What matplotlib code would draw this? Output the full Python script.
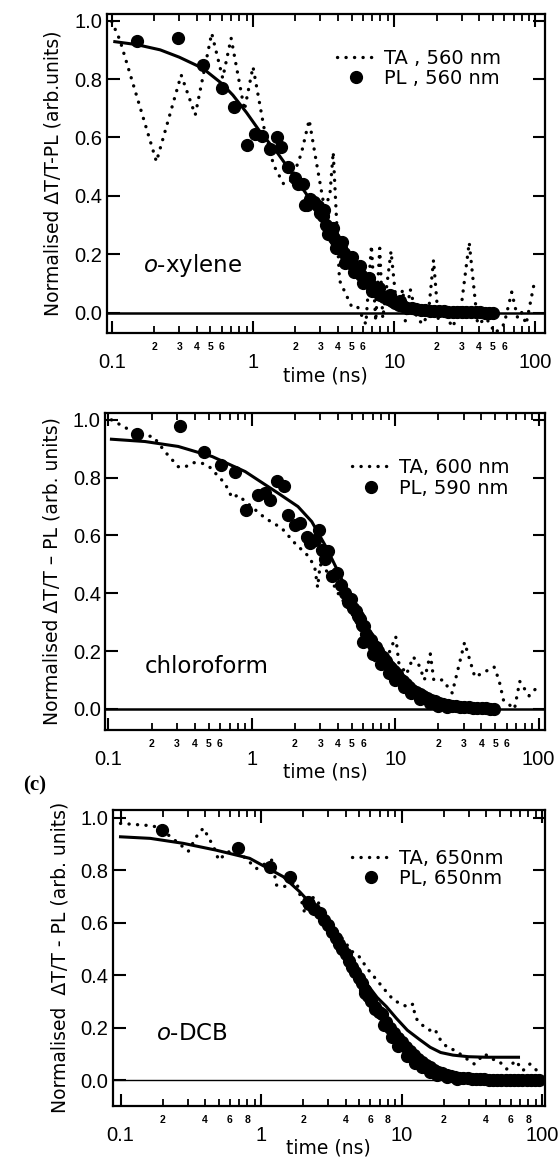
import matplotlib
matplotlib.use('Agg')
import matplotlib.pyplot as plt
from matplotlib.ticker import FixedLocator, FixedFormatter

plt.rcParams['mathtext.fontset'] = 'custom'
plt.rcParams['mathtext.it'] = 'DejaVu Sans:italic'
plt.rcParams['mathtext.rm'] = 'DejaVu Sans'

# ---- panel 1 : o-xylene ----
ta1_t = [0.10, 0.114, 0.207, 0.31, 0.39, 0.51, 0.61, 0.70, 0.87, 1.0, 1.2, 1.4, 1.65, 1.88, 2.2, 2.5,
         2.8, 3.2, 3.5, 3.7, 4.1, 5.0, 5.5, 6.3, 6.9, 7.4, 7.9, 8.3, 9.5, 10.5, 11.5, 12.0, 13.0,
         14.5, 16.0, 17.5, 19.0, 20.5, 23.0, 26.0, 30.0, 34.0, 39.0, 45.0, 52.0, 60.0, 68.0, 75.0,
         80.0, 86.0, 99.0]
ta1_v = [0.997, 0.934, 0.517, 0.814, 0.677, 0.957, 0.803, 0.94, 0.694, 0.842, 0.63, 0.505, 0.44, 0.454,
         0.545, 0.66, 0.52, 0.36, 0.40, 0.55, 0.11, 0.02, 0.02, -0.04, 0.23, -0.03, 0.22, -0.02, 0.21,
         0.0, 0.08, -0.03, 0.08, -0.02, -0.04, 0.0, 0.18, -0.02, -0.01, -0.05, 0.03, 0.24, -0.04,
         -0.02, -0.07, -0.04, 0.07, -0.02, 0.0, -0.04, 0.11]
pl1_t = [0.15, 0.295, 0.44, 0.60, 0.73, 0.90, 1.03, 1.15, 1.32, 1.47, 1.59, 1.78, 1.97, 2.1, 2.25, 2.33,
         2.4, 2.55, 2.7, 2.9, 3.0, 3.15, 3.3, 3.45, 3.6, 3.75, 3.9, 4.05, 4.2, 4.4, 4.6, 4.8, 5.0,
         5.25, 5.5, 5.8, 6.1, 6.4, 6.8, 7.2, 7.6, 8.0, 8.5, 9.0, 9.6, 10.2, 10.9, 11.6, 12.4, 13.3,
         14.3, 15.4, 16.6, 17.9, 19.3, 20.8, 22.4, 24.1, 26.0, 28.0, 30.2, 32.5, 35.0, 37.7, 40.6,
         43.7, 47.0, 50.0, 3.4, 3.9, 4.5, 5.2, 6.0, 7.0, 3.2, 3.7, 4.3, 5.0, 5.7, 6.6, 7.8, 9.3, 11.0]
pl1_v = [0.93, 0.94, 0.848, 0.77, 0.705, 0.575, 0.612, 0.606, 0.56, 0.60, 0.566, 0.497, 0.46, 0.44, 0.44,
         0.37, 0.37, 0.39, 0.38, 0.364, 0.34, 0.33, 0.30, 0.28, 0.27, 0.255, 0.245, 0.235, 0.22, 0.205,
         0.19, 0.18, 0.165, 0.155, 0.145, 0.13, 0.12, 0.105, 0.095, 0.085, 0.07, 0.06, 0.052, 0.045,
         0.038, 0.032, 0.026, 0.021, 0.017, 0.014, 0.011, 0.009, 0.008, 0.006, 0.005, 0.005, 0.004,
         0.003, 0.003, 0.002, 0.002, 0.002, 0.001, 0.001, 0.001, 0.0, 0.0, 0.0, 0.27, 0.22, 0.17,
         0.14, 0.10, 0.075, 0.35, 0.29, 0.24, 0.19, 0.16, 0.12, 0.085, 0.06, 0.04]
fit1_t = [0.105, 0.15, 0.22, 0.3, 0.44, 0.6, 0.72, 0.9, 1.12, 1.5, 2.0, 2.6, 3.33, 4.0, 4.7, 5.6, 6.7,
          8.0, 9.5, 11.5, 14.0, 18.0, 25.0, 35.0, 50.0]
fit1_v = [0.928, 0.918, 0.90, 0.875, 0.837, 0.785, 0.745, 0.685, 0.62, 0.545, 0.46, 0.38, 0.305, 0.245,
          0.19, 0.14, 0.10, 0.068, 0.045, 0.027, 0.015, 0.008, 0.004, 0.001, 0.0]

# ---- panel 2 : chloroform ----
ta2_t = [0.105, 0.162, 0.206, 0.248, 0.307, 0.34, 0.39, 0.45, 0.51, 0.65, 0.73, 0.80, 0.94, 1.24, 1.62,
         2.0, 2.5, 2.75, 2.88, 3.0, 3.3, 4.0, 5.3, 6.7, 7.6, 8.5, 10.1, 10.6, 12.0, 13.4, 14.7, 16.0,
         17.6, 18.6, 21.5, 25.0, 30.5, 36.0, 41.0, 49.0, 53.0, 57.0, 68.0, 74.0, 86.0, 100.0]
ta2_v = [1.0, 0.948, 0.942, 0.89, 0.838, 0.836, 0.852, 0.85, 0.836, 0.78, 0.73, 0.74, 0.71, 0.66, 0.625,
         0.573, 0.527, 0.49, 0.42, 0.50, 0.48, 0.40, 0.31, 0.19, 0.15, 0.16, 0.25, 0.16, 0.12, 0.18,
         0.15, 0.10, 0.19, 0.10, 0.10, 0.055, 0.23, 0.11, 0.125, 0.145, 0.10, 0.03, 0.0, 0.095, 0.045,
         0.08]
pl2_t = [0.158, 0.316, 0.466, 0.61, 0.76, 0.91, 1.1, 1.24, 1.34, 1.49, 1.67, 1.79, 2.0, 2.16, 2.42, 2.55,
         2.75, 2.96, 3.1, 3.24, 3.4, 3.6, 3.95, 4.2, 4.5, 4.7, 4.9, 5.1, 5.3, 5.5, 5.7, 5.9, 6.1, 6.3,
         6.5, 6.8, 7.0, 7.3, 7.6, 7.9, 8.2, 8.6, 9.0, 9.4, 9.8, 10.3, 10.8, 11.3, 11.9, 12.5, 13.2,
         14.0, 14.8, 15.7, 16.7, 17.8, 19.0, 20.3, 21.7, 23.2, 24.8, 26.5, 28.4, 30.4, 32.6, 35.0,
         37.5, 40.2, 43.0, 46.0, 49.0, 6.0, 7.0, 8.0, 9.0, 10.0, 11.5, 13.0, 15.0, 17.5, 20.0, 23.0]
pl2_v = [0.951, 0.979, 0.89, 0.844, 0.818, 0.689, 0.74, 0.746, 0.723, 0.787, 0.772, 0.671, 0.637, 0.643,
         0.596, 0.573, 0.585, 0.62, 0.55, 0.52, 0.546, 0.46, 0.47, 0.43, 0.40, 0.37, 0.38, 0.35, 0.34,
         0.32, 0.31, 0.29, 0.285, 0.26, 0.25, 0.24, 0.22, 0.215, 0.20, 0.185, 0.18, 0.165, 0.15, 0.14,
         0.13, 0.12, 0.105, 0.095, 0.085, 0.075, 0.065, 0.057, 0.05, 0.043, 0.037, 0.031, 0.026,
         0.021, 0.017, 0.014, 0.011, 0.009, 0.007, 0.006, 0.005, 0.004, 0.003, 0.002, 0.002, 0.001,
         0.0, 0.23, 0.19, 0.155, 0.125, 0.10, 0.075, 0.055, 0.035, 0.02, 0.01, 0.005]
fit2_t = [0.105, 0.18, 0.307, 0.53, 0.9, 1.53, 2.1, 2.62, 3.3, 4.0, 4.7, 5.6, 6.7, 8.0, 9.5, 11.3, 13.4,
          16.0, 19.0, 24.0, 30.0, 38.0, 48.0]
fit2_v = [0.933, 0.925, 0.908, 0.873, 0.821, 0.746, 0.70, 0.648, 0.56, 0.475, 0.40, 0.33, 0.263, 0.205,
          0.16, 0.115, 0.08, 0.052, 0.032, 0.018, 0.01, 0.004, 0.0]

# ---- panel 3 : o-DCB ----
ta3_t = [0.10, 0.12, 0.14, 0.16, 0.18, 0.22, 0.265, 0.304, 0.358, 0.39, 0.42, 0.46, 0.50, 0.58, 0.71,
         0.93, 1.19, 1.29, 1.44, 1.79, 2.05, 2.15, 2.48, 2.7, 3.1, 3.85, 4.45, 5.0, 5.8, 6.7, 7.3, 8.8,
         11.1, 12.1, 12.5, 13.6, 15.8, 17.3, 18.3, 21.1, 24.3, 28.0, 33.0, 39.0, 44.0, 49.0, 56.0,
         65.0, 73.0, 82.0, 92.0, 100.0]
ta3_v = [0.978, 0.975, 0.972, 0.97, 0.965, 0.933, 0.898, 0.872, 0.94, 0.96, 0.927, 0.889, 0.838, 0.87,
         0.864, 0.806, 0.838, 0.743, 0.736, 0.755, 0.635, 0.70, 0.692, 0.65, 0.604, 0.534, 0.49, 0.47,
         0.42, 0.38, 0.355, 0.304, 0.278, 0.29, 0.24, 0.215, 0.19, 0.195, 0.163, 0.125, 0.112, 0.087,
         0.061, 0.10, 0.08, 0.074, 0.042, 0.074, 0.036, 0.061, 0.036, 0.048]
pl3_t = [0.197, 0.69, 1.16, 1.62, 2.16, 2.2, 2.4, 2.63, 2.8, 3.0, 3.2, 3.4, 3.6, 3.8, 4.0, 4.2, 4.45, 4.7,
         4.95, 5.2, 5.5, 5.8, 6.1, 6.5, 6.9, 7.3, 7.8, 8.3, 8.8, 9.4, 10.0, 10.7, 11.4, 12.2, 13.0,
         13.9, 14.9, 15.9, 17.0, 18.2, 19.5, 20.9, 22.4, 24.0, 25.7, 27.5, 29.5, 31.6, 33.9, 36.3,
         38.9, 41.7, 44.7, 47.9, 51.3, 55.0, 59.0, 63.0, 67.6, 72.4, 77.6, 83.2, 89.0, 95.0,
         5.5, 6.5, 7.5, 8.5, 9.5, 11.0, 12.5, 14.0, 16.0, 18.0, 21.0, 25.0]
pl3_v = [0.952, 0.885, 0.813, 0.774, 0.68, 0.67, 0.65, 0.635, 0.61, 0.59, 0.565, 0.54, 0.52, 0.50, 0.48,
         0.455, 0.43, 0.41, 0.39, 0.37, 0.345, 0.32, 0.30, 0.28, 0.26, 0.25, 0.22, 0.20, 0.18, 0.16,
         0.145, 0.125, 0.11, 0.095, 0.082, 0.07, 0.058, 0.048, 0.04, 0.032, 0.026, 0.02, 0.016, 0.012,
         0.009, 0.007, 0.006, 0.005, 0.004, 0.003, 0.003, 0.002, 0.002, 0.001, 0.001, 0.001, 0.0, 0.0,
         0.0, 0.0, 0.0, 0.0, 0.0, 0.0, 0.33, 0.27, 0.21, 0.165, 0.13, 0.09, 0.065, 0.048, 0.03, 0.02,
         0.01, 0.005]
fit3_t = [0.10, 0.163, 0.28, 0.48, 0.83, 1.44, 1.89, 2.48, 3.08, 3.8, 4.5, 5.5, 6.7, 7.8, 9.2, 11.0, 13.4,
          16.0, 19.0, 23.3, 30.0, 40.0, 55.0, 68.0]
fit3_v = [0.927, 0.921, 0.902, 0.876, 0.845, 0.775, 0.717, 0.648, 0.59, 0.51, 0.44, 0.375, 0.315, 0.28,
          0.235, 0.19, 0.155, 0.125, 0.105, 0.095, 0.089, 0.087, 0.087, 0.087]

yticks = [0.0, 0.2, 0.4, 0.6, 0.8, 1.0]
ytick_labels = ['0.0', '0.2', '0.4', '0.6', '0.8', '1.0']
xticks = [0.1, 1, 10, 100]
xtick_labels = ['0.1', '1', '10', '100']

fig = plt.figure(figsize=(5.58, 11.62), dpi=100)
fig.patch.set_facecolor('white')


def panel(rect, xlim, ylim, ta_t, ta_v, pl_t, pl_v, fit_t, fit_v, ta_lab, pl_lab, ylab,
          name, name_xy, minor_show, leg_xy, zero_lw, xlab_y):
    ax = fig.add_axes(rect)
    ax.set_xscale('log')
    ax.plot(fit_t, fit_v, color='black', lw=2.2, zorder=3)
    ax.plot(ta_t, ta_v, color='black', lw=2.4, ls=(0, (0.05, 2.5)), dash_capstyle='round',
            label=ta_lab, zorder=2)
    ax.plot(pl_t, pl_v, 'o', color='black', ms=8.5, label=pl_lab, zorder=4)
    ax.axhline(0, color='black', lw=zero_lw, zorder=1)
    ax.set_xlim(*xlim)
    ax.set_ylim(*ylim)

    ax.set_xticks(xticks)
    ax.set_xticklabels(xtick_labels)
    ax.set_yticks(yticks)
    ax.set_yticklabels(ytick_labels)
    minor = [d * k for d in (0.1, 1, 10) for k in range(2, 10)]
    minor_lab = [str(k) if k in minor_show else '' for d in (0.1, 1, 10) for k in range(2, 10)]
    ax.xaxis.set_minor_locator(FixedLocator(minor))
    ax.xaxis.set_minor_formatter(FixedFormatter(minor_lab))

    ax.tick_params(which='major', direction='in', length=9, width=1.5, top=True, right=True,
                   labelsize=14.5, labelfontfamily=['Liberation Sans Narrow', 'Liberation Sans'])
    ax.tick_params(axis='x', which='major', pad=14.5)
    ax.tick_params(axis='y', which='major', pad=3)
    ax.tick_params(axis='x', which='minor', direction='in', length=5, width=1.3, top=True,
                   labelsize=7.5, pad=6.5)
    for lab in ax.get_xticklabels(minor=True):
        lab.set_fontweight('bold')
        lab.set_fontfamily('Liberation Sans')
    for s in ax.spines.values():
        s.set_linewidth(1.6)

    ax.set_ylabel(ylab, fontsize=13.5)
    ax.yaxis.set_label_coords(-0.10, 0.5)
    ax.set_xlabel('time (ns)', fontsize=13.5)
    ax.xaxis.set_label_coords(0.5, xlab_y)

    ax.text(name_xy[0], name_xy[1], name, fontsize=16.5, ha='left', va='center')
    ax.legend(loc='upper left', bbox_to_anchor=leg_xy, frameon=False, fontsize=14,
              borderpad=0, borderaxespad=0, handlelength=2.0, handletextpad=0.45,
              labelspacing=0.08, numpoints=1)
    return ax


panel([0.1912, 0.7132, 0.7855, 0.2748], (0.092, 117), (-0.071, 1.023),
      ta1_t, ta1_v, pl1_t, pl1_v, fit1_t, fit1_v,
      'TA , 560 nm', 'PL , 560 nm', 'Normalised \u0394T/T-PL (arb.units)',
      '$\\mathit{o}$-xylene', (0.166, 0.16), (2, 3, 4, 5, 6), (0.525, 0.891), 1.8, -0.103)

panel([0.1882, 0.3718, 0.7885, 0.2731], (0.0947, 111), (-0.073, 1.025),
      ta2_t, ta2_v, pl2_t, pl2_v, fit2_t, fit2_v,
      'TA, 600 nm', 'PL, 590 nm', 'Normalised \u0394T/T \u2013 PL (arb. units)',
      'chloroform', (0.179, 0.146), (2, 3, 4, 5, 6), (0.561, 0.857), 1.8, -0.104)

panel([0.2020, 0.0486, 0.7747, 0.2543], (0.088, 105), (-0.097, 1.029),
      ta3_t, ta3_v, pl3_t, pl3_v, fit3_t, fit3_v,
      'TA, 650nm', 'PL, 650nm', 'Normalised  \u0394T/T - PL (arb. units)',
      '$\\mathit{o}$-DCB', (0.178, 0.178), (2, 4, 6, 8), (0.553, 0.869), 1.0, -0.112)

fig.text(23 / 558, 1 - 785 / 1162, '(c)', fontfamily='Liberation Serif', fontweight='bold',
         fontsize=15, ha='left', va='center')

fig.savefig('out.png', dpi=100, facecolor='white')
